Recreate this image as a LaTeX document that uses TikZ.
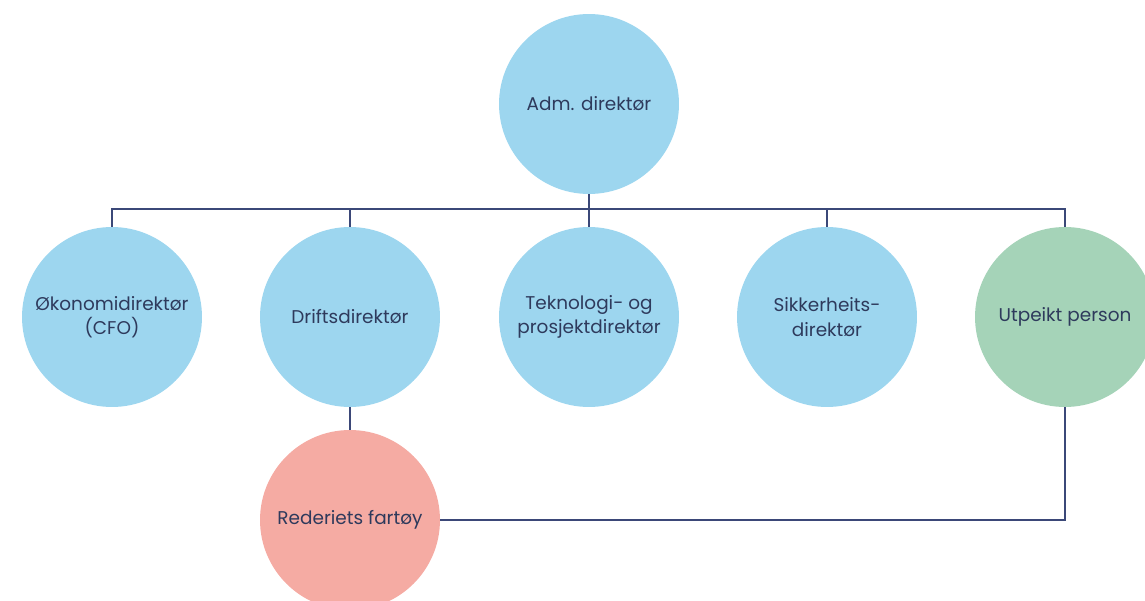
\documentclass[tikz,border=0pt]{standalone}
\usepackage{fontspec}
\setmainfont{Poppins}
\definecolor{sky}{HTML}{9DD6EF}
\definecolor{mint}{HTML}{A5D3B8}
\definecolor{salmon}{HTML}{F5ABA3}
\definecolor{navy}{HTML}{3B4878}
\definecolor{ink}{HTML}{2E3A5C}
\tikzset{
  role/.style={circle,minimum size=3.6cm,inner sep=0pt,align=center,text=ink,
    font=\fontsize{10.5}{14}\selectfont},
  link/.style={navy,line width=0.8pt}
}
\begin{document}
\begin{tikzpicture}[x=0.02cm,y=-0.02cm]
\useasboundingbox (0,0) rectangle (1145,601);

\node[role,fill=sky] (adm) at (589,104) {Adm. direktør};
\node[role,fill=sky] (cfo) at (112,317) {Økonomidirektør\\(CFO)};
\node[role,fill=sky] (drift) at (350,317) {Driftsdirektør};
\node[role,fill=sky] (tek) at (589,317) {Teknologi- og\\prosjektdirektør};
\node[role,fill=sky] (sikk) at (827,317) {Sikkerheits-\\direktør};
\node[role,fill=mint] (utp) at (1065,317) {Utpeikt person};
\node[role,fill=salmon] (fart) at (350,520) {Rederiets fartøy};

\coordinate (bus) at (589,209);
\draw[link] (adm) -- (bus);
\draw[link] (bus) -| (cfo);
\draw[link] (bus) -| (drift);
\draw[link] (bus) -- (tek);
\draw[link] (bus) -| (sikk);
\draw[link] (bus) -| (utp);
\draw[link] (drift) -- (fart);
\draw[link] (utp) |- (fart);
\end{tikzpicture}
\end{document}
